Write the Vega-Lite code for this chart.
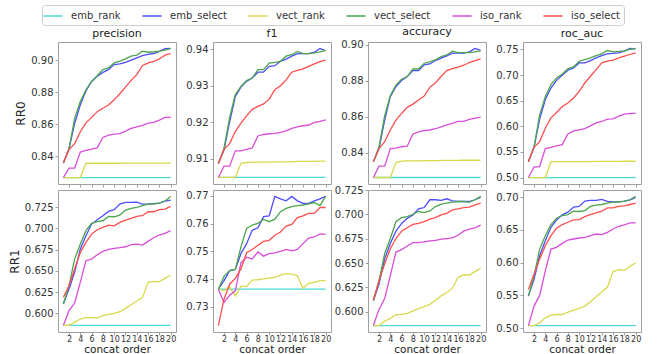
{
"$schema":"https://vega.github.io/schema/vega-lite/v6.json",
"autosize":{"type":"none"},
"padding":{"left":58,"top":42,"right":601,"bottom":312},
"background":"white",
"datasets":{"t":[
{"r":"RR0","m":"precision","x":1,"emb_rank":0.8265,"emb_select":0.8356,"vect_rank":0.8265,"vect_select":0.8356,"iso_rank":0.8265,"iso_select":0.8356},
{"r":"RR0","m":"precision","x":2,"emb_rank":0.8265,"emb_select":0.8446,"vect_rank":0.8265,"vect_select":0.8446,"iso_rank":0.8324,"iso_select":0.844},
{"r":"RR0","m":"precision","x":3,"emb_rank":0.8265,"emb_select":0.8604,"vect_rank":0.8265,"vect_select":0.8636,"iso_rank":0.8324,"iso_select":0.8478},
{"r":"RR0","m":"precision","x":4,"emb_rank":0.8265,"emb_select":0.872,"vect_rank":0.8265,"vect_select":0.8741,"iso_rank":0.8425,"iso_select":0.8552},
{"r":"RR0","m":"precision","x":5,"emb_rank":0.8265,"emb_select":0.8808,"vect_rank":0.8355,"vect_select":0.8815,"iso_rank":0.8436,"iso_select":0.8608},
{"r":"RR0","m":"precision","x":6,"emb_rank":0.8265,"emb_select":0.8867,"vect_rank":0.8355,"vect_select":0.8867,"iso_rank":0.8444,"iso_select":0.8642},
{"r":"RR0","m":"precision","x":7,"emb_rank":0.8265,"emb_select":0.8899,"vect_rank":0.8355,"vect_select":0.8903,"iso_rank":0.8451,"iso_select":0.8678},
{"r":"RR0","m":"precision","x":8,"emb_rank":0.8265,"emb_select":0.8924,"vect_rank":0.8355,"vect_select":0.8941,"iso_rank":0.8516,"iso_select":0.8699},
{"r":"RR0","m":"precision","x":9,"emb_rank":0.8265,"emb_select":0.8941,"vect_rank":0.8355,"vect_select":0.8952,"iso_rank":0.8531,"iso_select":0.872},
{"r":"RR0","m":"precision","x":10,"emb_rank":0.8265,"emb_select":0.8973,"vect_rank":0.8355,"vect_select":0.8983,"iso_rank":0.8537,"iso_select":0.8752},
{"r":"RR0","m":"precision","x":11,"emb_rank":0.8265,"emb_select":0.8977,"vect_rank":0.8355,"vect_select":0.8994,"iso_rank":0.8541,"iso_select":0.879},
{"r":"RR0","m":"precision","x":12,"emb_rank":0.8265,"emb_select":0.8987,"vect_rank":0.8356,"vect_select":0.9008,"iso_rank":0.8556,"iso_select":0.8832},
{"r":"RR0","m":"precision","x":13,"emb_rank":0.8265,"emb_select":0.9,"vect_rank":0.8356,"vect_select":0.9025,"iso_rank":0.8573,"iso_select":0.8874},
{"r":"RR0","m":"precision","x":14,"emb_rank":0.8265,"emb_select":0.9015,"vect_rank":0.8356,"vect_select":0.9032,"iso_rank":0.8583,"iso_select":0.891},
{"r":"RR0","m":"precision","x":15,"emb_rank":0.8265,"emb_select":0.9029,"vect_rank":0.8356,"vect_select":0.9057,"iso_rank":0.8592,"iso_select":0.8966},
{"r":"RR0","m":"precision","x":16,"emb_rank":0.8265,"emb_select":0.9036,"vect_rank":0.8356,"vect_select":0.905,"iso_rank":0.8606,"iso_select":0.8983},
{"r":"RR0","m":"precision","x":17,"emb_rank":0.8265,"emb_select":0.9042,"vect_rank":0.8356,"vect_select":0.9053,"iso_rank":0.8611,"iso_select":0.8992},
{"r":"RR0","m":"precision","x":18,"emb_rank":0.8265,"emb_select":0.9055,"vect_rank":0.8356,"vect_select":0.9057,"iso_rank":0.8625,"iso_select":0.9008},
{"r":"RR0","m":"precision","x":19,"emb_rank":0.8265,"emb_select":0.9072,"vect_rank":0.8356,"vect_select":0.9063,"iso_rank":0.8642,"iso_select":0.9032},
{"r":"RR0","m":"precision","x":20,"emb_rank":0.8265,"emb_select":0.9074,"vect_rank":0.8356,"vect_select":0.9072,"iso_rank":0.8642,"iso_select":0.9042},
{"r":"RR0","m":"f1","x":1,"emb_rank":0.9048,"emb_select":0.9086,"vect_rank":0.9048,"vect_select":0.9086,"iso_rank":0.9048,"iso_select":0.9086},
{"r":"RR0","m":"f1","x":2,"emb_rank":0.9048,"emb_select":0.9123,"vect_rank":0.9048,"vect_select":0.9128,"iso_rank":0.9079,"iso_select":0.9125},
{"r":"RR0","m":"f1","x":3,"emb_rank":0.9048,"emb_select":0.9201,"vect_rank":0.9048,"vect_select":0.9213,"iso_rank":0.9079,"iso_select":0.9141},
{"r":"RR0","m":"f1","x":4,"emb_rank":0.9048,"emb_select":0.927,"vect_rank":0.9048,"vect_select":0.9275,"iso_rank":0.9121,"iso_select":0.9174},
{"r":"RR0","m":"f1","x":5,"emb_rank":0.9048,"emb_select":0.9296,"vect_rank":0.9087,"vect_select":0.9298,"iso_rank":0.9121,"iso_select":0.9197},
{"r":"RR0","m":"f1","x":6,"emb_rank":0.9048,"emb_select":0.9312,"vect_rank":0.9089,"vect_select":0.9314,"iso_rank":0.9125,"iso_select":0.9217},
{"r":"RR0","m":"f1","x":7,"emb_rank":0.9048,"emb_select":0.9321,"vect_rank":0.909,"vect_select":0.9321,"iso_rank":0.9129,"iso_select":0.9235},
{"r":"RR0","m":"f1","x":8,"emb_rank":0.9048,"emb_select":0.9337,"vect_rank":0.909,"vect_select":0.9344,"iso_rank":0.9162,"iso_select":0.9243},
{"r":"RR0","m":"f1","x":9,"emb_rank":0.9048,"emb_select":0.9337,"vect_rank":0.909,"vect_select":0.9344,"iso_rank":0.9166,"iso_select":0.925},
{"r":"RR0","m":"f1","x":10,"emb_rank":0.9048,"emb_select":0.9353,"vect_rank":0.909,"vect_select":0.9362,"iso_rank":0.9168,"iso_select":0.9263},
{"r":"RR0","m":"f1","x":11,"emb_rank":0.9048,"emb_select":0.9355,"vect_rank":0.9091,"vect_select":0.9364,"iso_rank":0.9169,"iso_select":0.9289},
{"r":"RR0","m":"f1","x":12,"emb_rank":0.9048,"emb_select":0.9367,"vect_rank":0.9091,"vect_select":0.9367,"iso_rank":0.9172,"iso_select":0.93},
{"r":"RR0","m":"f1","x":13,"emb_rank":0.9048,"emb_select":0.9373,"vect_rank":0.9091,"vect_select":0.9381,"iso_rank":0.9176,"iso_select":0.9316},
{"r":"RR0","m":"f1","x":14,"emb_rank":0.9048,"emb_select":0.9381,"vect_rank":0.9091,"vect_select":0.9385,"iso_rank":0.9183,"iso_select":0.9337},
{"r":"RR0","m":"f1","x":15,"emb_rank":0.9048,"emb_select":0.9388,"vect_rank":0.9092,"vect_select":0.9394,"iso_rank":0.9187,"iso_select":0.9342},
{"r":"RR0","m":"f1","x":16,"emb_rank":0.9048,"emb_select":0.9388,"vect_rank":0.9092,"vect_select":0.9388,"iso_rank":0.919,"iso_select":0.9346},
{"r":"RR0","m":"f1","x":17,"emb_rank":0.9048,"emb_select":0.9388,"vect_rank":0.9092,"vect_select":0.9388,"iso_rank":0.9192,"iso_select":0.9353},
{"r":"RR0","m":"f1","x":18,"emb_rank":0.9048,"emb_select":0.9392,"vect_rank":0.9092,"vect_select":0.939,"iso_rank":0.9199,"iso_select":0.936},
{"r":"RR0","m":"f1","x":19,"emb_rank":0.9048,"emb_select":0.9402,"vect_rank":0.9093,"vect_select":0.9393,"iso_rank":0.9202,"iso_select":0.9366},
{"r":"RR0","m":"f1","x":20,"emb_rank":0.9048,"emb_select":0.9396,"vect_rank":0.9093,"vect_select":0.9397,"iso_rank":0.9206,"iso_select":0.937},
{"r":"RR0","m":"accuracy","x":1,"emb_rank":0.8261,"emb_select":0.8348,"vect_rank":0.8261,"vect_select":0.8348,"iso_rank":0.8261,"iso_select":0.8348},
{"r":"RR0","m":"accuracy","x":2,"emb_rank":0.8261,"emb_select":0.8422,"vect_rank":0.8261,"vect_select":0.8432,"iso_rank":0.8324,"iso_select":0.8422},
{"r":"RR0","m":"accuracy","x":3,"emb_rank":0.8261,"emb_select":0.858,"vect_rank":0.8261,"vect_select":0.8603,"iso_rank":0.8324,"iso_select":0.846},
{"r":"RR0","m":"accuracy","x":4,"emb_rank":0.8261,"emb_select":0.871,"vect_rank":0.8261,"vect_select":0.8716,"iso_rank":0.8421,"iso_select":0.8525},
{"r":"RR0","m":"accuracy","x":5,"emb_rank":0.8261,"emb_select":0.8766,"vect_rank":0.8344,"vect_select":0.8775,"iso_rank":0.8424,"iso_select":0.858},
{"r":"RR0","m":"accuracy","x":6,"emb_rank":0.8261,"emb_select":0.88,"vect_rank":0.8352,"vect_select":0.8807,"iso_rank":0.8432,"iso_select":0.8617},
{"r":"RR0","m":"accuracy","x":7,"emb_rank":0.8261,"emb_select":0.8822,"vect_rank":0.8353,"vect_select":0.8822,"iso_rank":0.8435,"iso_select":0.8651},
{"r":"RR0","m":"accuracy","x":8,"emb_rank":0.8261,"emb_select":0.8855,"vect_rank":0.8354,"vect_select":0.8864,"iso_rank":0.8502,"iso_select":0.8669},
{"r":"RR0","m":"accuracy","x":9,"emb_rank":0.8261,"emb_select":0.8855,"vect_rank":0.8354,"vect_select":0.8864,"iso_rank":0.8515,"iso_select":0.8692},
{"r":"RR0","m":"accuracy","x":10,"emb_rank":0.8261,"emb_select":0.8887,"vect_rank":0.8355,"vect_select":0.8896,"iso_rank":0.8521,"iso_select":0.8714},
{"r":"RR0","m":"accuracy","x":11,"emb_rank":0.8261,"emb_select":0.8892,"vect_rank":0.8355,"vect_select":0.8903,"iso_rank":0.8525,"iso_select":0.8762},
{"r":"RR0","m":"accuracy","x":12,"emb_rank":0.8261,"emb_select":0.8911,"vect_rank":0.8355,"vect_select":0.8915,"iso_rank":0.8532,"iso_select":0.8788},
{"r":"RR0","m":"accuracy","x":13,"emb_rank":0.8261,"emb_select":0.8924,"vect_rank":0.8356,"vect_select":0.8933,"iso_rank":0.8543,"iso_select":0.8822},
{"r":"RR0","m":"accuracy","x":14,"emb_rank":0.8261,"emb_select":0.8937,"vect_rank":0.8356,"vect_select":0.8942,"iso_rank":0.8554,"iso_select":0.8855},
{"r":"RR0","m":"accuracy","x":15,"emb_rank":0.8261,"emb_select":0.8952,"vect_rank":0.8356,"vect_select":0.8963,"iso_rank":0.8562,"iso_select":0.8866},
{"r":"RR0","m":"accuracy","x":16,"emb_rank":0.8261,"emb_select":0.8952,"vect_rank":0.8356,"vect_select":0.8955,"iso_rank":0.8573,"iso_select":0.8874},
{"r":"RR0","m":"accuracy","x":17,"emb_rank":0.8261,"emb_select":0.8952,"vect_rank":0.8357,"vect_select":0.8955,"iso_rank":0.8573,"iso_select":0.8885},
{"r":"RR0","m":"accuracy","x":18,"emb_rank":0.8261,"emb_select":0.8959,"vect_rank":0.8357,"vect_select":0.8955,"iso_rank":0.8584,"iso_select":0.89},
{"r":"RR0","m":"accuracy","x":19,"emb_rank":0.8261,"emb_select":0.8978,"vect_rank":0.8357,"vect_select":0.8959,"iso_rank":0.8591,"iso_select":0.8911},
{"r":"RR0","m":"accuracy","x":20,"emb_rank":0.8261,"emb_select":0.8967,"vect_rank":0.8357,"vect_select":0.8965,"iso_rank":0.8597,"iso_select":0.892},
{"r":"RR0","m":"roc_auc","x":1,"emb_rank":0.5,"emb_select":0.531,"vect_rank":0.5,"vect_select":0.531,"iso_rank":0.5,"iso_select":0.531},
{"r":"RR0","m":"roc_auc","x":2,"emb_rank":0.5,"emb_select":0.559,"vect_rank":0.5,"vect_select":0.559,"iso_rank":0.5205,"iso_select":0.559},
{"r":"RR0","m":"roc_auc","x":3,"emb_rank":0.5,"emb_select":0.614,"vect_rank":0.5,"vect_select":0.6225,"iso_rank":0.5215,"iso_select":0.5701},
{"r":"RR0","m":"roc_auc","x":4,"emb_rank":0.5,"emb_select":0.6519,"vect_rank":0.5,"vect_select":0.6584,"iso_rank":0.5564,"iso_select":0.5963},
{"r":"RR0","m":"roc_auc","x":5,"emb_rank":0.5,"emb_select":0.6748,"vect_rank":0.531,"vect_select":0.6813,"iso_rank":0.559,"iso_select":0.6166},
{"r":"RR0","m":"roc_auc","x":6,"emb_rank":0.5,"emb_select":0.6898,"vect_rank":0.531,"vect_select":0.6944,"iso_rank":0.5616,"iso_select":0.627},
{"r":"RR0","m":"roc_auc","x":7,"emb_rank":0.5,"emb_select":0.6996,"vect_rank":0.531,"vect_select":0.7023,"iso_rank":0.5643,"iso_select":0.6388},
{"r":"RR0","m":"roc_auc","x":8,"emb_rank":0.5,"emb_select":0.7095,"vect_rank":0.531,"vect_select":0.7121,"iso_rank":0.5852,"iso_select":0.6454},
{"r":"RR0","m":"roc_auc","x":9,"emb_rank":0.5,"emb_select":0.714,"vect_rank":0.531,"vect_select":0.716,"iso_rank":0.5911,"iso_select":0.6552},
{"r":"RR0","m":"roc_auc","x":10,"emb_rank":0.5,"emb_select":0.7238,"vect_rank":0.5312,"vect_select":0.7271,"iso_rank":0.593,"iso_select":0.6683},
{"r":"RR0","m":"roc_auc","x":11,"emb_rank":0.5,"emb_select":0.7238,"vect_rank":0.5312,"vect_select":0.7304,"iso_rank":0.5957,"iso_select":0.6846},
{"r":"RR0","m":"roc_auc","x":12,"emb_rank":0.5,"emb_select":0.7284,"vect_rank":0.5312,"vect_select":0.7337,"iso_rank":0.6009,"iso_select":0.6977},
{"r":"RR0","m":"roc_auc","x":13,"emb_rank":0.5,"emb_select":0.7337,"vect_rank":0.5314,"vect_select":0.7382,"iso_rank":0.6068,"iso_select":0.7108},
{"r":"RR0","m":"roc_auc","x":14,"emb_rank":0.5,"emb_select":0.7382,"vect_rank":0.5314,"vect_select":0.7415,"iso_rank":0.6094,"iso_select":0.7238},
{"r":"RR0","m":"roc_auc","x":15,"emb_rank":0.5,"emb_select":0.7415,"vect_rank":0.5316,"vect_select":0.748,"iso_rank":0.614,"iso_select":0.7271},
{"r":"RR0","m":"roc_auc","x":16,"emb_rank":0.5,"emb_select":0.7422,"vect_rank":0.5316,"vect_select":0.7454,"iso_rank":0.6146,"iso_select":0.7291},
{"r":"RR0","m":"roc_auc","x":17,"emb_rank":0.5,"emb_select":0.7435,"vect_rank":0.5316,"vect_select":0.7461,"iso_rank":0.6199,"iso_select":0.7337},
{"r":"RR0","m":"roc_auc","x":18,"emb_rank":0.5,"emb_select":0.7467,"vect_rank":0.5318,"vect_select":0.7474,"iso_rank":0.6238,"iso_select":0.7369},
{"r":"RR0","m":"roc_auc","x":19,"emb_rank":0.5,"emb_select":0.752,"vect_rank":0.5318,"vect_select":0.75,"iso_rank":0.6251,"iso_select":0.7402},
{"r":"RR0","m":"roc_auc","x":20,"emb_rank":0.5,"emb_select":0.7513,"vect_rank":0.5318,"vect_select":0.752,"iso_rank":0.6251,"iso_select":0.7435},
{"r":"RR1","m":"precision","x":1,"emb_rank":0.5858,"emb_select":0.6109,"vect_rank":0.5858,"vect_select":0.6109,"iso_rank":0.5858,"iso_select":0.6188},
{"r":"RR1","m":"precision","x":2,"emb_rank":0.5858,"emb_select":0.6286,"vect_rank":0.5858,"vect_select":0.6325,"iso_rank":0.6031,"iso_select":0.6325},
{"r":"RR1","m":"precision","x":3,"emb_rank":0.5858,"emb_select":0.6482,"vect_rank":0.5894,"vect_select":0.6638,"iso_rank":0.6121,"iso_select":0.6521},
{"r":"RR1","m":"precision","x":4,"emb_rank":0.5858,"emb_select":0.6756,"vect_rank":0.5933,"vect_select":0.6815,"iso_rank":0.6364,"iso_select":0.6717},
{"r":"RR1","m":"precision","x":5,"emb_rank":0.5858,"emb_select":0.6913,"vect_rank":0.5949,"vect_select":0.6972,"iso_rank":0.6619,"iso_select":0.6834},
{"r":"RR1","m":"precision","x":6,"emb_rank":0.5858,"emb_select":0.705,"vect_rank":0.5949,"vect_select":0.7058,"iso_rank":0.6638,"iso_select":0.6932},
{"r":"RR1","m":"precision","x":7,"emb_rank":0.5858,"emb_select":0.7101,"vect_rank":0.5945,"vect_select":0.7078,"iso_rank":0.6689,"iso_select":0.6983},
{"r":"RR1","m":"precision","x":8,"emb_rank":0.5858,"emb_select":0.7148,"vect_rank":0.5972,"vect_select":0.7089,"iso_rank":0.6729,"iso_select":0.7011},
{"r":"RR1","m":"precision","x":9,"emb_rank":0.5858,"emb_select":0.7199,"vect_rank":0.5988,"vect_select":0.714,"iso_rank":0.6752,"iso_select":0.7038},
{"r":"RR1","m":"precision","x":10,"emb_rank":0.5858,"emb_select":0.7219,"vect_rank":0.5999,"vect_select":0.7136,"iso_rank":0.6764,"iso_select":0.703},
{"r":"RR1","m":"precision","x":11,"emb_rank":0.5858,"emb_select":0.7285,"vect_rank":0.6019,"vect_select":0.7156,"iso_rank":0.6772,"iso_select":0.707},
{"r":"RR1","m":"precision","x":12,"emb_rank":0.5858,"emb_select":0.7305,"vect_rank":0.6058,"vect_select":0.7215,"iso_rank":0.6783,"iso_select":0.7097},
{"r":"RR1","m":"precision","x":13,"emb_rank":0.5858,"emb_select":0.7305,"vect_rank":0.6101,"vect_select":0.7234,"iso_rank":0.6807,"iso_select":0.7117},
{"r":"RR1","m":"precision","x":14,"emb_rank":0.5858,"emb_select":0.7309,"vect_rank":0.6145,"vect_select":0.7246,"iso_rank":0.6815,"iso_select":0.714},
{"r":"RR1","m":"precision","x":15,"emb_rank":0.5858,"emb_select":0.7285,"vect_rank":0.6184,"vect_select":0.7266,"iso_rank":0.6803,"iso_select":0.7148},
{"r":"RR1","m":"precision","x":16,"emb_rank":0.5858,"emb_select":0.7285,"vect_rank":0.6364,"vect_select":0.7285,"iso_rank":0.6846,"iso_select":0.7195},
{"r":"RR1","m":"precision","x":17,"emb_rank":0.5858,"emb_select":0.7289,"vect_rank":0.6376,"vect_select":0.7289,"iso_rank":0.6889,"iso_select":0.7195},
{"r":"RR1","m":"precision","x":18,"emb_rank":0.5858,"emb_select":0.7297,"vect_rank":0.6372,"vect_select":0.7297,"iso_rank":0.6921,"iso_select":0.7219},
{"r":"RR1","m":"precision","x":19,"emb_rank":0.5858,"emb_select":0.7321,"vect_rank":0.6411,"vect_select":0.7321,"iso_rank":0.694,"iso_select":0.7226},
{"r":"RR1","m":"precision","x":20,"emb_rank":0.5858,"emb_select":0.7332,"vect_rank":0.645,"vect_select":0.7375,"iso_rank":0.6972,"iso_select":0.7258},
{"r":"RR1","m":"f1","x":1,"emb_rank":0.7364,"emb_select":0.7364,"vect_rank":0.7364,"vect_select":0.7364,"iso_rank":0.7364,"iso_select":0.7233},
{"r":"RR1","m":"f1","x":2,"emb_rank":0.7364,"emb_select":0.7395,"vect_rank":0.7358,"vect_select":0.741,"iso_rank":0.7316,"iso_select":0.7328},
{"r":"RR1","m":"f1","x":3,"emb_rank":0.7364,"emb_select":0.7431,"vect_rank":0.7373,"vect_select":0.7431,"iso_rank":0.7342,"iso_select":0.7382},
{"r":"RR1","m":"f1","x":4,"emb_rank":0.7364,"emb_select":0.7435,"vect_rank":0.734,"vect_select":0.7435,"iso_rank":0.7358,"iso_select":0.7403},
{"r":"RR1","m":"f1","x":5,"emb_rank":0.7364,"emb_select":0.7492,"vect_rank":0.7374,"vect_select":0.7516,"iso_rank":0.7459,"iso_select":0.7437},
{"r":"RR1","m":"f1","x":6,"emb_rank":0.7364,"emb_select":0.7528,"vect_rank":0.7374,"vect_select":0.7583,"iso_rank":0.7479,"iso_select":0.7495},
{"r":"RR1","m":"f1","x":7,"emb_rank":0.7364,"emb_select":0.7576,"vect_rank":0.7397,"vect_select":0.7595,"iso_rank":0.7473,"iso_select":0.7507},
{"r":"RR1","m":"f1","x":8,"emb_rank":0.7364,"emb_select":0.7585,"vect_rank":0.7398,"vect_select":0.7601,"iso_rank":0.7498,"iso_select":0.7522},
{"r":"RR1","m":"f1","x":9,"emb_rank":0.7364,"emb_select":0.7625,"vect_rank":0.7401,"vect_select":0.7615,"iso_rank":0.7483,"iso_select":0.7536},
{"r":"RR1","m":"f1","x":10,"emb_rank":0.7364,"emb_select":0.7628,"vect_rank":0.7404,"vect_select":0.7607,"iso_rank":0.7492,"iso_select":0.754},
{"r":"RR1","m":"f1","x":11,"emb_rank":0.7364,"emb_select":0.7698,"vect_rank":0.7407,"vect_select":0.7616,"iso_rank":0.7495,"iso_select":0.7558},
{"r":"RR1","m":"f1","x":12,"emb_rank":0.7364,"emb_select":0.7689,"vect_rank":0.7415,"vect_select":0.7643,"iso_rank":0.75,"iso_select":0.757},
{"r":"RR1","m":"f1","x":13,"emb_rank":0.7364,"emb_select":0.7682,"vect_rank":0.742,"vect_select":0.7655,"iso_rank":0.7507,"iso_select":0.7591},
{"r":"RR1","m":"f1","x":14,"emb_rank":0.7364,"emb_select":0.7698,"vect_rank":0.7418,"vect_select":0.7661,"iso_rank":0.7502,"iso_select":0.7597},
{"r":"RR1","m":"f1","x":15,"emb_rank":0.7364,"emb_select":0.7682,"vect_rank":0.7413,"vect_select":0.7665,"iso_rank":0.7507,"iso_select":0.7622},
{"r":"RR1","m":"f1","x":16,"emb_rank":0.7364,"emb_select":0.7673,"vect_rank":0.7367,"vect_select":0.7667,"iso_rank":0.7528,"iso_select":0.7628},
{"r":"RR1","m":"f1","x":17,"emb_rank":0.7364,"emb_select":0.7673,"vect_rank":0.7385,"vect_select":0.7671,"iso_rank":0.7548,"iso_select":0.7637},
{"r":"RR1","m":"f1","x":18,"emb_rank":0.7364,"emb_select":0.7682,"vect_rank":0.7389,"vect_select":0.7676,"iso_rank":0.7552,"iso_select":0.7637},
{"r":"RR1","m":"f1","x":19,"emb_rank":0.7364,"emb_select":0.7689,"vect_rank":0.7395,"vect_select":0.7665,"iso_rank":0.7563,"iso_select":0.7658},
{"r":"RR1","m":"f1","x":20,"emb_rank":0.7364,"emb_select":0.7698,"vect_rank":0.7395,"vect_select":0.7698,"iso_rank":0.7561,"iso_select":0.7658},
{"r":"RR1","m":"accuracy","x":1,"emb_rank":0.5859,"emb_select":0.6112,"vect_rank":0.5859,"vect_select":0.6112,"iso_rank":0.5859,"iso_select":0.6122},
{"r":"RR1","m":"accuracy","x":2,"emb_rank":0.5859,"emb_select":0.6285,"vect_rank":0.5859,"vect_select":0.6319,"iso_rank":0.6025,"iso_select":0.6319},
{"r":"RR1","m":"accuracy","x":3,"emb_rank":0.5859,"emb_select":0.6544,"vect_rank":0.5904,"vect_select":0.6596,"iso_rank":0.6136,"iso_select":0.6492},
{"r":"RR1","m":"accuracy","x":4,"emb_rank":0.5859,"emb_select":0.67,"vect_rank":0.5932,"vect_select":0.6752,"iso_rank":0.6371,"iso_select":0.6648},
{"r":"RR1","m":"accuracy","x":5,"emb_rank":0.5859,"emb_select":0.6828,"vect_rank":0.597,"vect_select":0.6925,"iso_rank":0.6613,"iso_select":0.6752},
{"r":"RR1","m":"accuracy","x":6,"emb_rank":0.5859,"emb_select":0.6907,"vect_rank":0.5973,"vect_select":0.6966,"iso_rank":0.6638,"iso_select":0.6828},
{"r":"RR1","m":"accuracy","x":7,"emb_rank":0.5859,"emb_select":0.6959,"vect_rank":0.5984,"vect_select":0.6977,"iso_rank":0.6676,"iso_select":0.6863},
{"r":"RR1","m":"accuracy","x":8,"emb_rank":0.5859,"emb_select":0.6994,"vect_rank":0.6008,"vect_select":0.7001,"iso_rank":0.671,"iso_select":0.6897},
{"r":"RR1","m":"accuracy","x":9,"emb_rank":0.5859,"emb_select":0.7056,"vect_rank":0.6032,"vect_select":0.7029,"iso_rank":0.671,"iso_select":0.6907},
{"r":"RR1","m":"accuracy","x":10,"emb_rank":0.5859,"emb_select":0.707,"vect_rank":0.6053,"vect_select":0.7018,"iso_rank":0.6717,"iso_select":0.6925},
{"r":"RR1","m":"accuracy","x":11,"emb_rank":0.5859,"emb_select":0.715,"vect_rank":0.6077,"vect_select":0.7035,"iso_rank":0.6728,"iso_select":0.6952},
{"r":"RR1","m":"accuracy","x":12,"emb_rank":0.5859,"emb_select":0.715,"vect_rank":0.6119,"vect_select":0.708,"iso_rank":0.6734,"iso_select":0.6966},
{"r":"RR1","m":"accuracy","x":13,"emb_rank":0.5859,"emb_select":0.7143,"vect_rank":0.6164,"vect_select":0.7105,"iso_rank":0.6745,"iso_select":0.6994},
{"r":"RR1","m":"accuracy","x":14,"emb_rank":0.5859,"emb_select":0.716,"vect_rank":0.6198,"vect_select":0.7115,"iso_rank":0.6752,"iso_select":0.7011},
{"r":"RR1","m":"accuracy","x":15,"emb_rank":0.5859,"emb_select":0.7139,"vect_rank":0.624,"vect_select":0.7125,"iso_rank":0.6759,"iso_select":0.7046},
{"r":"RR1","m":"accuracy","x":16,"emb_rank":0.5859,"emb_select":0.7132,"vect_rank":0.6354,"vect_select":0.7132,"iso_rank":0.6786,"iso_select":0.7056},
{"r":"RR1","m":"accuracy","x":17,"emb_rank":0.5859,"emb_select":0.7132,"vect_rank":0.6378,"vect_select":0.7132,"iso_rank":0.6828,"iso_select":0.707},
{"r":"RR1","m":"accuracy","x":18,"emb_rank":0.5859,"emb_select":0.7132,"vect_rank":0.6378,"vect_select":0.7125,"iso_rank":0.6849,"iso_select":0.7074},
{"r":"RR1","m":"accuracy","x":19,"emb_rank":0.5859,"emb_select":0.715,"vect_rank":0.6413,"vect_select":0.715,"iso_rank":0.6862,"iso_select":0.7098},
{"r":"RR1","m":"accuracy","x":20,"emb_rank":0.5859,"emb_select":0.7174,"vect_rank":0.6447,"vect_select":0.7184,"iso_rank":0.689,"iso_select":0.7115},
{"r":"RR1","m":"roc_auc","x":1,"emb_rank":0.5041,"emb_select":0.5491,"vect_rank":0.5041,"vect_select":0.5491,"iso_rank":0.5041,"iso_select":0.5593},
{"r":"RR1","m":"roc_auc","x":2,"emb_rank":0.5041,"emb_select":0.5747,"vect_rank":0.5041,"vect_select":0.5798,"iso_rank":0.5338,"iso_select":0.5824},
{"r":"RR1","m":"roc_auc","x":3,"emb_rank":0.5041,"emb_select":0.6105,"vect_rank":0.5082,"vect_select":0.6207,"iso_rank":0.5501,"iso_select":0.6054},
{"r":"RR1","m":"roc_auc","x":4,"emb_rank":0.5041,"emb_select":0.6335,"vect_rank":0.5159,"vect_select":0.6412,"iso_rank":0.5875,"iso_select":0.6258},
{"r":"RR1","m":"roc_auc","x":5,"emb_rank":0.5041,"emb_select":0.654,"vect_rank":0.52,"vect_select":0.6581,"iso_rank":0.6207,"iso_select":0.6412},
{"r":"RR1","m":"roc_auc","x":6,"emb_rank":0.5041,"emb_select":0.6652,"vect_rank":0.521,"vect_select":0.6678,"iso_rank":0.6233,"iso_select":0.6524},
{"r":"RR1","m":"roc_auc","x":7,"emb_rank":0.5041,"emb_select":0.6729,"vect_rank":0.521,"vect_select":0.6719,"iso_rank":0.6294,"iso_select":0.6581},
{"r":"RR1","m":"roc_auc","x":8,"emb_rank":0.5041,"emb_select":0.677,"vect_rank":0.5246,"vect_select":0.6734,"iso_rank":0.6345,"iso_select":0.6616},
{"r":"RR1","m":"roc_auc","x":9,"emb_rank":0.5041,"emb_select":0.6847,"vect_rank":0.5276,"vect_select":0.6785,"iso_rank":0.6361,"iso_select":0.6652},
{"r":"RR1","m":"roc_auc","x":10,"emb_rank":0.5041,"emb_select":0.6857,"vect_rank":0.5302,"vect_select":0.678,"iso_rank":0.6376,"iso_select":0.6657},
{"r":"RR1","m":"roc_auc","x":11,"emb_rank":0.5041,"emb_select":0.6939,"vect_rank":0.5338,"vect_select":0.6795,"iso_rank":0.6386,"iso_select":0.6703},
{"r":"RR1","m":"roc_auc","x":12,"emb_rank":0.5041,"emb_select":0.6949,"vect_rank":0.5404,"vect_select":0.6857,"iso_rank":0.6412,"iso_select":0.6734},
{"r":"RR1","m":"roc_auc","x":13,"emb_rank":0.5041,"emb_select":0.6949,"vect_rank":0.5481,"vect_select":0.6877,"iso_rank":0.6437,"iso_select":0.676},
{"r":"RR1","m":"roc_auc","x":14,"emb_rank":0.5041,"emb_select":0.6964,"vect_rank":0.5552,"vect_select":0.6887,"iso_rank":0.6427,"iso_select":0.6785},
{"r":"RR1","m":"roc_auc","x":15,"emb_rank":0.5041,"emb_select":0.6934,"vect_rank":0.5629,"vect_select":0.6908,"iso_rank":0.6463,"iso_select":0.6836},
{"r":"RR1","m":"roc_auc","x":16,"emb_rank":0.5041,"emb_select":0.6928,"vect_rank":0.5864,"vect_select":0.6923,"iso_rank":0.6514,"iso_select":0.6836},
{"r":"RR1","m":"roc_auc","x":17,"emb_rank":0.5041,"emb_select":0.6928,"vect_rank":0.5895,"vect_select":0.6928,"iso_rank":0.6555,"iso_select":0.6857},
{"r":"RR1","m":"roc_auc","x":18,"emb_rank":0.5041,"emb_select":0.6939,"vect_rank":0.5885,"vect_select":0.6934,"iso_rank":0.6575,"iso_select":0.6867},
{"r":"RR1","m":"roc_auc","x":19,"emb_rank":0.5041,"emb_select":0.6959,"vect_rank":0.5946,"vect_select":0.6959,"iso_rank":0.6606,"iso_select":0.6887},
{"r":"RR1","m":"roc_auc","x":20,"emb_rank":0.5041,"emb_select":0.699,"vect_rank":0.5997,"vect_select":0.701,"iso_rank":0.6606,"iso_select":0.6908}
]},
"data":{"name":"t"},
"columns":4,
"spacing":{"row":6,"column":37},
"bounds":"flush",
"concat":[
{"width":118,"height":142,"title":"precision",
 "transform":[{"filter":"datum.r==='RR0' && datum.m==='precision'"},{"fold":["emb_rank","emb_select","vect_rank","vect_select","iso_rank","iso_select"],"as":["series","value"]}],
 "mark":{"type":"line","strokeWidth":1.3},
 "encoding":{
  "x":{"field":"x","type":"quantitative","scale":{"domain":[0.05,20.95],"nice":false},"axis":{"values":[2,4,6,8,10,12,14,16,18,20],"labels":false,"title":null}},
  "y":{"field":"value","type":"quantitative","scale":{"domain":[0.8225,0.9114],"nice":false,"zero":false},"axis":{"values":[0.84,0.86,0.88,0.90],"format":".2f","title":"RR0"}},
  "color":{"field":"series","type":"nominal","scale":{"domain":["emb_rank","emb_select","vect_rank","vect_select","iso_rank","iso_select"],"range":["#4dd9d9","#4d4dff","#d9d94d","#4da64d","#d94dd9","#ff4d4d"]},"legend":{"orient":"none","legendX":-16,"legendY":-37,"direction":"horizontal","title":null,"symbolType":"M-1.6,0H1.6","symbolSize":144,"symbolStrokeWidth":1.5,"labelFontSize":10,"labelColor":"#333333","labelOffset":11,"columnPadding":18,"padding":4,"strokeColor":"#cccccc","cornerRadius":3,"fillColor":"white"}}}},
{"width":118,"height":142,"title":"f1",
 "transform":[{"filter":"datum.r==='RR0' && datum.m==='f1'"},{"fold":["emb_rank","emb_select","vect_rank","vect_select","iso_rank","iso_select"],"as":["series","value"]}],
 "mark":{"type":"line","strokeWidth":1.3},
 "encoding":{
  "x":{"field":"x","type":"quantitative","scale":{"domain":[0.05,20.95],"nice":false},"axis":{"values":[2,4,6,8,10,12,14,16,18,20],"labels":false,"title":null}},
  "y":{"field":"value","type":"quantitative","scale":{"domain":[0.903,0.942],"nice":false,"zero":false},"axis":{"values":[0.91,0.92,0.93,0.94],"format":".2f","title":null}},
  "color":{"field":"series","type":"nominal","scale":{"domain":["emb_rank","emb_select","vect_rank","vect_select","iso_rank","iso_select"],"range":["#4dd9d9","#4d4dff","#d9d94d","#4da64d","#d94dd9","#ff4d4d"]},"legend":{"orient":"none","legendX":-16,"legendY":-37,"direction":"horizontal","title":null,"symbolType":"M-1.6,0H1.6","symbolSize":144,"symbolStrokeWidth":1.5,"labelFontSize":10,"labelColor":"#333333","labelOffset":11,"columnPadding":18,"padding":4,"strokeColor":"#cccccc","cornerRadius":3,"fillColor":"white"}}}},
{"width":118,"height":142,"title":"accuracy",
 "transform":[{"filter":"datum.r==='RR0' && datum.m==='accuracy'"},{"fold":["emb_rank","emb_select","vect_rank","vect_select","iso_rank","iso_select"],"as":["series","value"]}],
 "mark":{"type":"line","strokeWidth":1.3},
 "encoding":{
  "x":{"field":"x","type":"quantitative","scale":{"domain":[0.05,20.95],"nice":false},"axis":{"values":[2,4,6,8,10,12,14,16,18,20],"labels":false,"title":null}},
  "y":{"field":"value","type":"quantitative","scale":{"domain":[0.8225,0.9014],"nice":false,"zero":false},"axis":{"values":[0.84,0.86,0.88,0.90],"format":".2f","title":null}},
  "color":{"field":"series","type":"nominal","scale":{"domain":["emb_rank","emb_select","vect_rank","vect_select","iso_rank","iso_select"],"range":["#4dd9d9","#4d4dff","#d9d94d","#4da64d","#d94dd9","#ff4d4d"]},"legend":{"orient":"none","legendX":-16,"legendY":-37,"direction":"horizontal","title":null,"symbolType":"M-1.6,0H1.6","symbolSize":144,"symbolStrokeWidth":1.5,"labelFontSize":10,"labelColor":"#333333","labelOffset":11,"columnPadding":18,"padding":4,"strokeColor":"#cccccc","cornerRadius":3,"fillColor":"white"}}}},
{"width":118,"height":142,"title":"roc_auc",
 "transform":[{"filter":"datum.r==='RR0' && datum.m==='roc_auc'"},{"fold":["emb_rank","emb_select","vect_rank","vect_select","iso_rank","iso_select"],"as":["series","value"]}],
 "mark":{"type":"line","strokeWidth":1.3},
 "encoding":{
  "x":{"field":"x","type":"quantitative","scale":{"domain":[0.05,20.95],"nice":false},"axis":{"values":[2,4,6,8,10,12,14,16,18,20],"labels":false,"title":null}},
  "y":{"field":"value","type":"quantitative","scale":{"domain":[0.4874,0.7646],"nice":false,"zero":false},"axis":{"values":[0.5,0.55,0.6,0.65,0.7,0.75],"format":".2f","title":null}},
  "color":{"field":"series","type":"nominal","scale":{"domain":["emb_rank","emb_select","vect_rank","vect_select","iso_rank","iso_select"],"range":["#4dd9d9","#4d4dff","#d9d94d","#4da64d","#d94dd9","#ff4d4d"]},"legend":{"orient":"none","legendX":-16,"legendY":-37,"direction":"horizontal","title":null,"symbolType":"M-1.6,0H1.6","symbolSize":144,"symbolStrokeWidth":1.5,"labelFontSize":10,"labelColor":"#333333","labelOffset":11,"columnPadding":18,"padding":4,"strokeColor":"#cccccc","cornerRadius":3,"fillColor":"white"}}}},
{"width":118,"height":142,
 "transform":[{"filter":"datum.r==='RR1' && datum.m==='precision'"},{"fold":["emb_rank","emb_select","vect_rank","vect_select","iso_rank","iso_select"],"as":["series","value"]}],
 "mark":{"type":"line","strokeWidth":1.3},
 "encoding":{
  "x":{"field":"x","type":"quantitative","scale":{"domain":[0.05,20.95],"nice":false},"axis":{"values":[2,4,6,8,10,12,14,16,18,20],"title":"concat order"}},
  "y":{"field":"value","type":"quantitative","scale":{"domain":[0.578,0.7451],"nice":false,"zero":false},"axis":{"values":[0.6,0.625,0.65,0.675,0.7,0.725],"format":".3f","title":"RR1"}},
  "color":{"field":"series","type":"nominal","scale":{"domain":["emb_rank","emb_select","vect_rank","vect_select","iso_rank","iso_select"],"range":["#4dd9d9","#4d4dff","#d9d94d","#4da64d","#d94dd9","#ff4d4d"]},"legend":{"orient":"none","legendX":-16,"legendY":-37,"direction":"horizontal","title":null,"symbolType":"M-1.6,0H1.6","symbolSize":144,"symbolStrokeWidth":1.5,"labelFontSize":10,"labelColor":"#333333","labelOffset":11,"columnPadding":18,"padding":4,"strokeColor":"#cccccc","cornerRadius":3,"fillColor":"white"}}}},
{"width":118,"height":142,
 "transform":[{"filter":"datum.r==='RR1' && datum.m==='f1'"},{"fold":["emb_rank","emb_select","vect_rank","vect_select","iso_rank","iso_select"],"as":["series","value"]}],
 "mark":{"type":"line","strokeWidth":1.3},
 "encoding":{
  "x":{"field":"x","type":"quantitative","scale":{"domain":[0.05,20.95],"nice":false},"axis":{"values":[2,4,6,8,10,12,14,16,18,20],"title":"concat order"}},
  "y":{"field":"value","type":"quantitative","scale":{"domain":[0.721,0.7721],"nice":false,"zero":false},"axis":{"values":[0.73,0.74,0.75,0.76,0.77],"format":".2f","title":null}},
  "color":{"field":"series","type":"nominal","scale":{"domain":["emb_rank","emb_select","vect_rank","vect_select","iso_rank","iso_select"],"range":["#4dd9d9","#4d4dff","#d9d94d","#4da64d","#d94dd9","#ff4d4d"]},"legend":{"orient":"none","legendX":-16,"legendY":-37,"direction":"horizontal","title":null,"symbolType":"M-1.6,0H1.6","symbolSize":144,"symbolStrokeWidth":1.5,"labelFontSize":10,"labelColor":"#333333","labelOffset":11,"columnPadding":18,"padding":4,"strokeColor":"#cccccc","cornerRadius":3,"fillColor":"white"}}}},
{"width":118,"height":142,
 "transform":[{"filter":"datum.r==='RR1' && datum.m==='accuracy'"},{"fold":["emb_rank","emb_select","vect_rank","vect_select","iso_rank","iso_select"],"as":["series","value"]}],
 "mark":{"type":"line","strokeWidth":1.3},
 "encoding":{
  "x":{"field":"x","type":"quantitative","scale":{"domain":[0.05,20.95],"nice":false},"axis":{"values":[2,4,6,8,10,12,14,16,18,20],"title":"concat order"}},
  "y":{"field":"value","type":"quantitative","scale":{"domain":[0.5793,0.725],"nice":false,"zero":false},"axis":{"values":[0.6,0.625,0.65,0.675,0.7,0.725],"format":".3f","title":null}},
  "color":{"field":"series","type":"nominal","scale":{"domain":["emb_rank","emb_select","vect_rank","vect_select","iso_rank","iso_select"],"range":["#4dd9d9","#4d4dff","#d9d94d","#4da64d","#d94dd9","#ff4d4d"]},"legend":{"orient":"none","legendX":-16,"legendY":-37,"direction":"horizontal","title":null,"symbolType":"M-1.6,0H1.6","symbolSize":144,"symbolStrokeWidth":1.5,"labelFontSize":10,"labelColor":"#333333","labelOffset":11,"columnPadding":18,"padding":4,"strokeColor":"#cccccc","cornerRadius":3,"fillColor":"white"}}}},
{"width":118,"height":142,
 "transform":[{"filter":"datum.r==='RR1' && datum.m==='roc_auc'"},{"fold":["emb_rank","emb_select","vect_rank","vect_select","iso_rank","iso_select"],"as":["series","value"]}],
 "mark":{"type":"line","strokeWidth":1.3},
 "encoding":{
  "x":{"field":"x","type":"quantitative","scale":{"domain":[0.05,20.95],"nice":false},"axis":{"values":[2,4,6,8,10,12,14,16,18,20],"title":"concat order"}},
  "y":{"field":"value","type":"quantitative","scale":{"domain":[0.4943,0.7108],"nice":false,"zero":false},"axis":{"values":[0.5,0.55,0.6,0.65,0.7],"format":".2f","title":null}},
  "color":{"field":"series","type":"nominal","scale":{"domain":["emb_rank","emb_select","vect_rank","vect_select","iso_rank","iso_select"],"range":["#4dd9d9","#4d4dff","#d9d94d","#4da64d","#d94dd9","#ff4d4d"]},"legend":{"orient":"none","legendX":-16,"legendY":-37,"direction":"horizontal","title":null,"symbolType":"M-1.6,0H1.6","symbolSize":144,"symbolStrokeWidth":1.5,"labelFontSize":10,"labelColor":"#333333","labelOffset":11,"columnPadding":18,"padding":4,"strokeColor":"#cccccc","cornerRadius":3,"fillColor":"white"}}}}
],
"config":{
 "font":"DejaVu Sans",
 "view":{"stroke":"#a0a0a0","strokeWidth":1},
 "axis":{"domain":false,"grid":false,"tickColor":"#a0a0a0","tickSize":3,"labelFontSize":10,"labelColor":"#333333","labelPadding":2,"titleFontSize":11,"titleColor":"#222222","titleFontWeight":"normal","titlePadding":2},
 "axisX":{"labelFontSize":8,"labelPadding":0.5,"labelOverlap":false,"labelFlush":false,"titleFontSize":10.5,"titleBaseline":"alphabetic","titleY":20.5},
 "axisY":{"titleFontSize":12,"titlePadding":3},
 "title":{"fontSize":11,"fontWeight":"normal","color":"#222222","offset":3}
}
}
